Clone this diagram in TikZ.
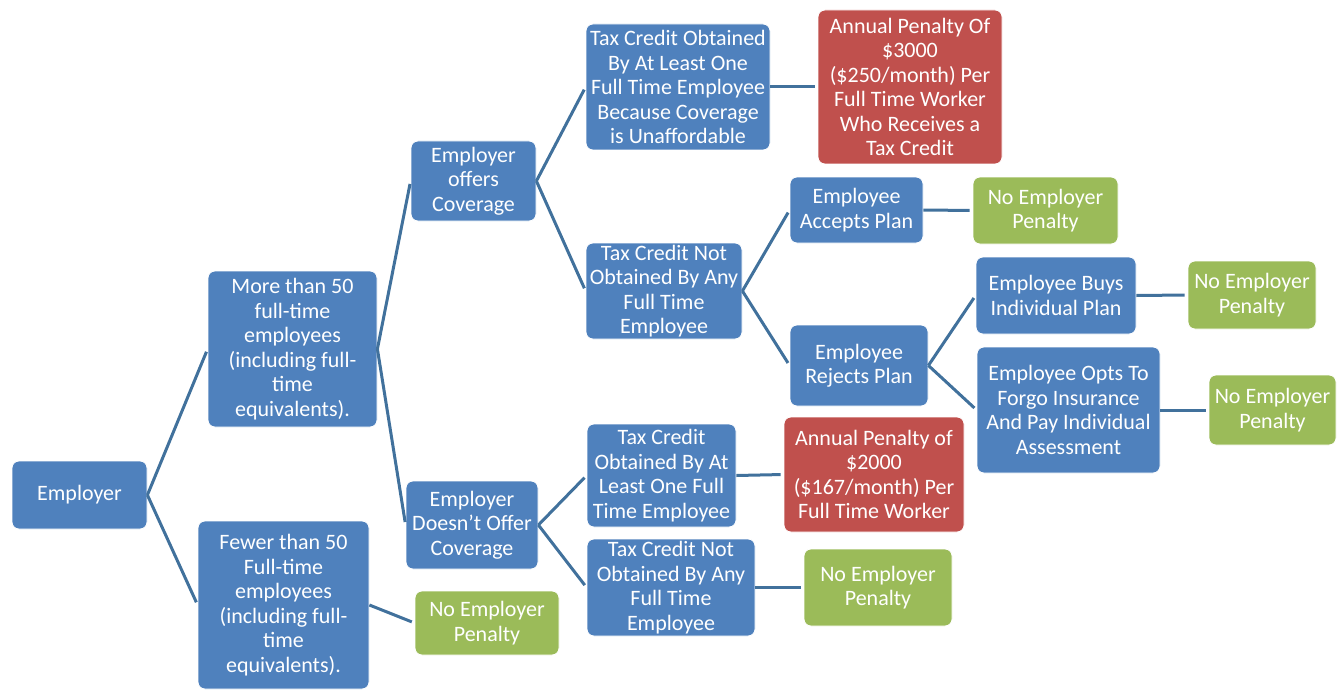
\documentclass[tikz,border=0pt]{standalone}
\usepackage{fontspec}
\setmainfont{Carlito}
\definecolor{bbox}{HTML}{4F81BD}
\definecolor{rbox}{HTML}{C0504D}
\definecolor{gbox}{HTML}{9BBB59}
\definecolor{conn}{HTML}{41719C}
\begin{document}
\begin{tikzpicture}[x=1pt,y=-1pt,
  base/.style={rounded corners=7pt, draw=white, line width=0.8pt, text=white, align=center, inner sep=0pt,
    font=\fontsize{22}{24.5}\selectfont},
  bnode/.style={base, fill=bbox},
  rnode/.style={base, fill=rbox},
  gnode/.style={base, fill=gbox},
  link/.style={draw=conn, line width=3pt, shorten >=3pt}]
\useasboundingbox (0,0) rectangle (1344,690);
\newcommand{\bx}[6]{\node[#1, minimum width=#4-#3, minimum height=#6-#5] (#2) at ({(#3+#4)/2},{(#5+#6)/2})}
\bx{bnode}{emp}{12}{147}{461}{529} {Employer};
\bx{bnode}{more}{208}{377}{271}{427} {More than 50\\full-time\\employees\\(including full-\\time\\equivalents).};
\bx{bnode}{fewer}{198}{369}{521}{689} {Fewer than 50\\Full-time\\employees\\(including full-\\time\\equivalents).};
\bx{gnode}{np1}{415}{559}{591}{655} {No Employer\\Penalty};
\bx{bnode}{offers}{411}{536}{141}{221} {Employer\\offers\\Coverage};
\bx{bnode}{dno}{406}{538}{481}{569} {Employer\\Doesn’t Offer\\Coverage};
\bx{bnode}{tcu}{586}{770}{24}{150} {Tax Credit Obtained\\By At Least One\\Full Time Employee\\Because Coverage\\is Unaffordable};
\bx{rnode}{pen3}{818}{1002}{10}{164} {Annual Penalty Of\\\$3000\\(\$250/month) Per\\Full Time Worker\\Who Receives a\\Tax Credit};
\bx{bnode}{tcn}{586}{742}{243}{339} {Tax Credit Not\\Obtained By Any\\Full Time\\Employee};
\bx{bnode}{acc}{790}{923}{177}{243} {Employee\\Accepts Plan};
\bx{gnode}{np2}{973}{1118}{177}{244} {No Employer\\Penalty};
\bx{bnode}{rej}{790}{928}{325}{406} {Employee\\Rejects Plan};
\bx{bnode}{buys}{976}{1136}{257}{334} {Employee Buys\\Individual Plan};
\bx{gnode}{np3}{1188}{1316}{261}{329} {No Employer\\Penalty};
\bx{bnode}{opts}{977}{1160}{347}{473} {Employee Opts To\\Forgo Insurance\\And Pay Individual\\Assessment};
\bx{gnode}{np4}{1209}{1336}{375}{445} {No Employer\\Penalty};
\bx{bnode}{tco}{587}{736}{424}{527} {Tax Credit\\Obtained By At\\Least One Full\\Time Employee};
\bx{rnode}{pen2}{784}{964}{417}{532} {Annual Penalty of\\\$2000\\(\$167/month) Per\\Full Time Worker};
\bx{bnode}{tcn2}{587}{755}{539}{636} {Tax Credit Not\\Obtained By Any\\Full Time\\Employee};
\bx{gnode}{np5}{804}{952}{549}{626} {No Employer\\Penalty};
\draw[link] (emp.east) -- (more.west);
\draw[link] (emp.east) -- (fewer.west);
\draw[link] (fewer.east) -- (np1.west);
\draw[link] (more.east) -- (offers.west);
\draw[link] (more.east) -- (dno.west);
\draw[link] (offers.east) -- (tcu.west);
\draw[link] (offers.east) -- (tcn.west);
\draw[link] (tcu.east) -- (pen3.west);
\draw[link] (tcn.east) -- (acc.west);
\draw[link] (tcn.east) -- (rej.west);
\draw[link] (acc.east) -- (np2.west);
\draw[link] (rej.east) -- (buys.west);
\draw[link] (rej.east) -- (opts.west);
\draw[link] (buys.east) -- (np3.west);
\draw[link] (opts.east) -- (np4.west);
\draw[link] (dno.east) -- (tco.west);
\draw[link] (dno.east) -- (tcn2.west);
\draw[link] (tco.east) -- (pen2.west);
\draw[link] (tcn2.east) -- (np5.west);
\end{tikzpicture}
\end{document}
